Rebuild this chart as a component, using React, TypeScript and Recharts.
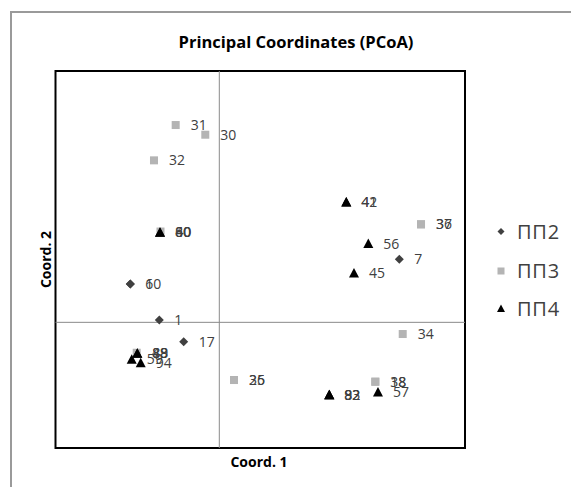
import React from 'react';
import { ScatterChart, Scatter, XAxis, YAxis, ReferenceLine, ReferenceArea } from 'recharts';

const xDomain: [number, number] = [-0.4, 0.6];
const yDomain: [number, number] = [-0.2, 0.4];

const seriesNames = ['ПП2', 'ПП3', 'ПП4'];

const pp2Labels = ['6', '10', '1', '17', '7'];
const pp2X = [-0.2173, -0.2173, -0.1465, -0.0869, 0.4396];
const pp2Y = [0.061, 0.061, 0.0037, -0.0309, 0.1003];

const pp3Labels = ['31', '30', '32', '40', '37', '36', '34', '18', '38', '26', '35', '48'];
const pp3X = [-0.1065, -0.0342, -0.1595, -0.1436, 0.4926, 0.4926, 0.4479, 0.381, 0.381, 0.0359, 0.0359, -0.2017];
const pp3Y = [0.314, 0.2986, 0.2578, 0.1445, 0.156, 0.156, -0.0186, -0.0945, -0.0945, -0.0918, -0.0918, -0.0484];

const pp4Labels = ['41', '42', '56', '45', '57', '82', '83', '92', '60', '80', '59', '94', '88', '89'];
const pp4X = [0.3101, 0.3101, 0.3639, 0.3289, 0.3875, 0.2686, 0.2686, 0.2686, -0.1448, -0.1448, -0.2139, -0.1919, -0.2002, -0.2002];
const pp4Y = [0.1915, 0.1915, 0.1254, 0.0785, -0.1109, -0.1152, -0.1152, -0.1152, 0.1432, 0.1432, -0.0589, -0.0643, -0.0493, -0.0493];

const build = (xs: number[], ys: number[], labels: string[]) =>
  xs.map((x, i) => ({ x, y: ys[i], label: labels[i] }));

const pp2Data = build(pp2X, pp2Y, pp2Labels);
const pp3Data = build(pp3X, pp3Y, pp3Labels);
const pp4Data = build(pp4X, pp4Y, pp4Labels);
const allData = [...pp2Data, ...pp3Data, ...pp4Data];

const C2 = '#404040';
const C3 = '#b4b4b4';
const C4 = '#000000';
const FONT = '"Open Sans", "Noto Sans", sans-serif';

const DiamondShape = (p: any) => {
  const { cx, cy } = p;
  const r = 4.5;
  return <path d={`M${cx},${cy - r}L${cx + r},${cy}L${cx},${cy + r}L${cx - r},${cy}Z`} fill={C2} />;
};
const SquareShape = (p: any) => {
  const { cx, cy } = p;
  return <rect x={cx - 4} y={cy - 4} width={8} height={8} fill={C3} />;
};
const TriangleShape = (p: any) => {
  const { cx, cy } = p;
  return <path d={`M${cx},${cy - 5}L${cx + 5},${cy + 4.5}L${cx - 5},${cy + 4.5}Z`} fill={C4} />;
};
const LabelShape = (p: any) => {
  const { cx, cy } = p;
  const label = p.payload?.label ?? p.label;
  return (
    <text x={cx + 15} y={cy + 5} fontFamily={FONT} fontSize={14} fill="#404040">
      {label}
    </text>
  );
};

export default function App() {
  return (
    <div style={{ position: 'fixed', left: 0, top: 0, width: 571, height: 487, overflow: 'hidden', background: '#fff' }}>
      <div
        style={{
          position: 'absolute',
          left: 10,
          top: 11,
          width: 620,
          height: 520,
          borderLeft: '2px solid #9a9a9a',
          borderTop: '2px solid #9a9a9a',
        }}
      />
      <div style={{ position: 'absolute', left: 0, top: 0 }}>
        <ScatterChart width={571} height={487} margin={{ top: 71, left: 55.5, right: 106, bottom: 39 }}>
          <XAxis type="number" dataKey="x" domain={xDomain} allowDataOverflow hide />
          <YAxis type="number" dataKey="y" domain={yDomain} allowDataOverflow hide />
          <ReferenceLine x={0} stroke="#8a8a8a" strokeWidth={1} />
          <ReferenceLine y={0} stroke="#8a8a8a" strokeWidth={1} />
          <ReferenceArea x1={xDomain[0]} x2={xDomain[1]} y1={yDomain[0]} y2={yDomain[1]} fill="none" stroke="#000" strokeWidth={2} fillOpacity={0} />
          <Scatter name={seriesNames[0]} data={pp2Data} shape={DiamondShape} isAnimationActive={false} />
          <Scatter name={seriesNames[1]} data={pp3Data} shape={SquareShape} isAnimationActive={false} />
          <Scatter name={seriesNames[2]} data={pp4Data} shape={TriangleShape} isAnimationActive={false} />
          <Scatter name="labels" data={allData} shape={LabelShape} isAnimationActive={false} legendType="none" />
        </ScatterChart>
      </div>
      <svg width={571} height={487} style={{ position: 'absolute', left: 0, top: 0, pointerEvents: 'none' }}>
        <text x={296} y={48} textAnchor="middle" fontFamily={FONT} fontWeight="bold" fontSize={16.5} fill="#000">
          Principal Coordinates (PCoA)
        </text>
        <text x={259} y={467} textAnchor="middle" fontFamily={FONT} fontWeight="bold" fontSize={14} fill="#000">
          Coord. 1
        </text>
        <text x={50.5} y={259.5} textAnchor="middle" fontFamily={FONT} fontWeight="bold" fontSize={14} fill="#000" transform="rotate(-90, 50.5, 259.5)">
          Coord. 2
        </text>
        <path d="M501,228L504.5,231.5L501,235L497.5,231.5Z" fill={C2} />
        <text x={517} y={238.5} fontFamily={FONT} fontSize={20} letterSpacing={0.8} fill="#404040">{seriesNames[0]}</text>
        <rect x={497.5} y={267.5} width={7} height={7} fill={C3} />
        <text x={517} y={278} fontFamily={FONT} fontSize={20} letterSpacing={0.8} fill="#404040">{seriesNames[1]}</text>
        <path d="M501,304.5L505,312L497,312Z" fill={C4} />
        <text x={517} y={316} fontFamily={FONT} fontSize={20} letterSpacing={0.8} fill="#404040">{seriesNames[2]}</text>
      </svg>
    </div>
  );
}
